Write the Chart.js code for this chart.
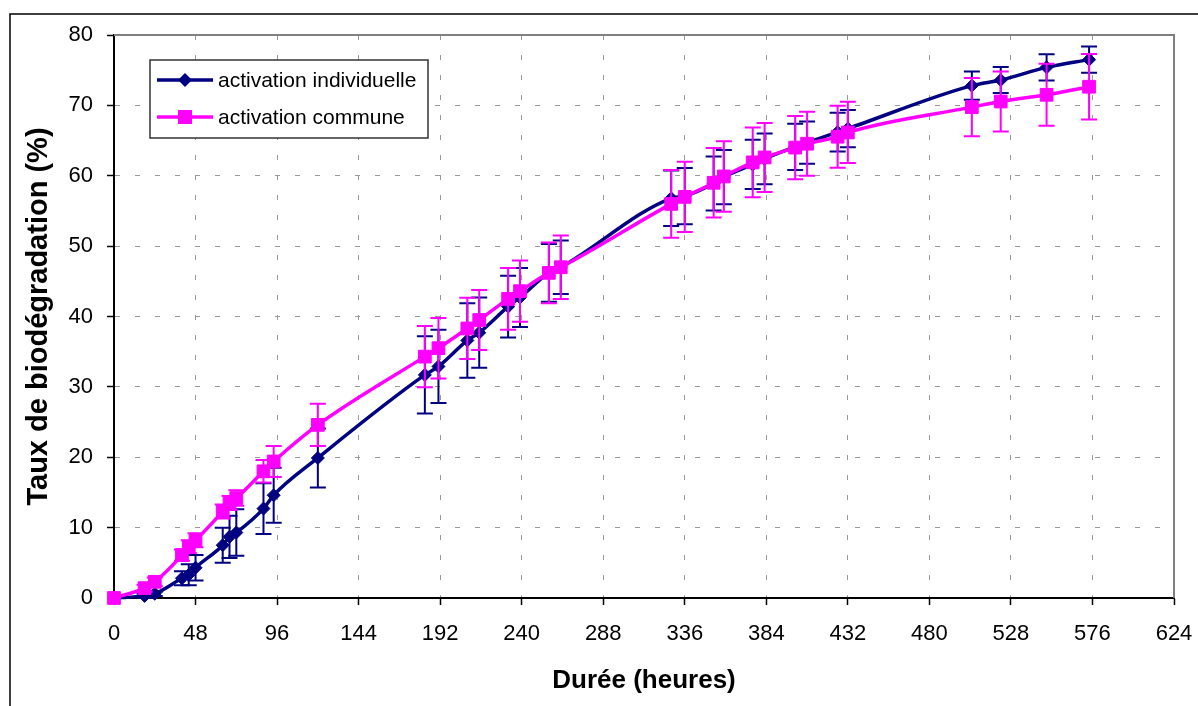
<!DOCTYPE html>
<html lang="fr">

<head>
    <!-- Meta information -->
    <meta charset="UTF-8">
    <title>Taux de biodégradation</title>

    <!-- Chart.js library for rendering the chart -->
    <script src="https://cdn.jsdelivr.net/npm/chart.js"></script>

    <style>
        body {
            margin: 0;
            background: #ffffff;
        }

        .chart-box {
            position: relative;
            width: 1198px;
            height: 706px;
        }
    </style>
</head>

<body>

<!-- Chart container -->
<div class="chart-box">
    <canvas id="bioChart"></canvas>
</div>

<script>
    // Sampling times (heures)
    const hours = [0, 18, 24, 40, 44, 48, 64, 68, 72, 88, 94, 120, 183, 191, 208, 215, 232, 239, 256, 263,
        328, 336, 353, 359, 376, 383, 401, 408, 426, 432, 505, 522, 549, 574];

    // activation individuelle (%) and its error
    const individuelle = [0, 0.3, 0.6, 2.8, 3.3, 4.3, 7.5, 8.7, 9.3, 12.7, 14.6, 19.9, 31.7, 32.9, 36.6, 37.7, 41.4, 42.7, 46.2, 47.0,
        56.8, 57.1, 58.9, 59.8, 61.6, 62.4, 64.1, 64.7, 66.2, 66.7, 72.8, 73.6, 75.4, 76.5];
    const individuelleErr = [0, 0.3, 0.3, 1.0, 1.5, 1.8, 2.5, 3.0, 3.3, 3.6, 3.9, 4.2, 5.5, 5.2, 5.3, 5.0, 4.4, 4.2, 4.1, 3.8,
        3.95, 4.0, 3.85, 3.85, 3.5, 3.6, 3.3, 3.0, 2.75, 2.65, 2.0, 1.85, 1.85, 1.85];

    // activation commune (%) and its error
    const commune = [0, 1.4, 2.3, 6.1, 7.3, 8.2, 12.3, 13.5, 14.2, 18.0, 19.4, 24.6, 34.3, 35.5, 38.3, 39.5, 42.5, 43.6, 46.2, 47.0,
        56.0, 57.0, 59.0, 59.9, 61.9, 62.6, 64.0, 64.55, 65.55, 66.15, 69.75, 70.55, 71.5, 72.65];
    const communeErr = [0, 0.5, 0.6, 0.8, 0.9, 1.0, 1.0, 1.0, 1.1, 1.6, 2.2, 3.0, 4.35, 4.3, 4.35, 4.25, 4.4, 4.35, 4.3, 4.5,
        4.8, 5.0, 4.95, 5.0, 4.95, 4.9, 4.5, 4.55, 4.4, 4.35, 4.15, 4.25, 4.4, 4.65];

    // Axis ticks
    const xTicks = [0, 48, 96, 144, 192, 240, 288, 336, 384, 432, 480, 528, 576, 624];
    const yTicks = [0, 10, 20, 30, 40, 50, 60, 70, 80];

    const FONT = "'Liberation Sans', Arial, sans-serif";

    function toPoints(values) {
        return hours.map((h, i) => ({ x: h, y: values[i] }));
    }

    // Draws vertical error bars with caps just before each dataset
    const errorBars = {
        id: 'errorBars',
        beforeDatasetDraw(chart, args) {
            const ds = chart.data.datasets[args.index];
            if (!ds.errors) return;
            const xs = chart.scales.x;
            const ys = chart.scales.y;
            const ctx = chart.ctx;
            ctx.save();
            ctx.strokeStyle = ds.borderColor;
            ctx.lineWidth = 2;
            ds.data.forEach((p, i) => {
                const e = ds.errors[i];
                if (!e) return;
                const px = xs.getPixelForValue(p.x);
                const top = ys.getPixelForValue(p.y + e);
                const bot = ys.getPixelForValue(p.y - e);
                ctx.beginPath();
                ctx.moveTo(px, top);
                ctx.lineTo(px, bot);
                ctx.moveTo(px - 8, top);
                ctx.lineTo(px + 8, top);
                ctx.moveTo(px - 8, bot);
                ctx.lineTo(px + 8, bot);
                ctx.stroke();
            });
            ctx.restore();
        }
    };

    // Outer chart frame and gray plot area border
    const frames = {
        id: 'frames',
        beforeDraw(chart) {
            const ctx = chart.ctx;
            ctx.save();
            ctx.strokeStyle = '#000';
            ctx.lineWidth = 1.5;
            ctx.beginPath();
            ctx.moveTo(10, chart.height + 5);
            ctx.lineTo(10, 14);
            ctx.lineTo(chart.width + 5, 14);
            ctx.stroke();
            ctx.restore();
        },
        beforeDatasetsDraw(chart) {
            const a = chart.chartArea;
            const ctx = chart.ctx;
            ctx.save();
            ctx.strokeStyle = '#808080';
            ctx.lineWidth = 2;
            ctx.beginPath();
            ctx.moveTo(a.left, a.top);
            ctx.lineTo(a.right, a.top);
            ctx.lineTo(a.right, a.bottom);
            ctx.stroke();
            ctx.restore();
        }
    };

    // Boxed legend inside the plot area
    const boxLegend = {
        id: 'boxLegend',
        afterDraw(chart) {
            const ctx = chart.ctx;
            ctx.save();
            ctx.strokeStyle = '#333';
            ctx.lineWidth = 1.5;
            ctx.fillStyle = '#fff';
            ctx.fillRect(150, 60, 278, 78);
            ctx.strokeRect(150, 60, 278, 78);

            const rows = [0, 1];
            rows.forEach((idx, r) => {
                const ds = chart.data.datasets[idx];
                const y = 80 + r * 37;
                ctx.strokeStyle = ds.borderColor;
                ctx.lineWidth = 3.5;
                ctx.beginPath();
                ctx.moveTo(157, y);
                ctx.lineTo(213, y);
                ctx.stroke();
                ctx.fillStyle = ds.borderColor;
                ctx.beginPath();
                if (ds.pointStyle === 'rectRot') {
                    ctx.moveTo(185, y - 7);
                    ctx.lineTo(192, y);
                    ctx.lineTo(185, y + 7);
                    ctx.lineTo(178, y);
                    ctx.closePath();
                } else {
                    ctx.rect(178, y - 7, 14, 14);
                }
                ctx.fill();
                ctx.fillStyle = '#000';
                ctx.font = '21px ' + FONT;
                ctx.textBaseline = 'middle';
                ctx.fillText(ds.label, 218, y + 1);
            });
            ctx.restore();
        }
    };

    const ctx = document.getElementById('bioChart').getContext('2d');

    new Chart(ctx, {
        type: 'line',
        data: {
            datasets: [{
                label: 'activation individuelle',
                data: toPoints(individuelle),
                errors: individuelleErr,
                borderColor: '#000080',
                backgroundColor: '#000080',
                borderWidth: 3.5,
                pointStyle: 'rectRot',
                pointRadius: 6.5,
                pointBorderWidth: 1,
                cubicInterpolationMode: 'monotone',
                clip: false,
                order: 1
            }, {
                label: 'activation commune',
                data: toPoints(commune),
                errors: communeErr,
                borderColor: '#ff00ff',
                backgroundColor: '#ff00ff',
                borderWidth: 3.5,
                pointStyle: 'rect',
                pointRadius: 9,
                pointBorderWidth: 1,
                cubicInterpolationMode: 'monotone',
                clip: false,
                order: 0
            }]
        },
        options: {
            responsive: true,
            maintainAspectRatio: false,
            animation: false,
            layout: {
                padding: { left: 0, top: 35, right: 24, bottom: 0 }
            },
            plugins: {
                legend: { display: false },
                tooltip: { enabled: false }
            },
            scales: {
                x: {
                    type: 'linear',
                    min: 0,
                    max: 624,
                    afterBuildTicks: s => { s.ticks = xTicks.map(v => ({ value: v })); },
                    afterFit: s => {
                        s.height = 108;
                        s.paddingLeft = 0;
                        s.paddingRight = 0;
                    },
                    grid: {
                        color: '#9a9a9a',
                        lineWidth: 1,
                        tickLength: 7,
                        tickColor: '#000',
                        tickWidth: 1.5,
                        tickBorderDash: []
                    },
                    border: { color: '#000', width: 2, dash: [5, 15] },
                    ticks: {
                        font: { family: FONT, size: 22 },
                        color: '#000',
                        padding: 16,
                        maxRotation: 0,
                        autoSkip: false
                    },
                    title: {
                        display: true,
                        text: 'Durée (heures)',
                        font: { family: FONT, size: 26, weight: 'bold' },
                        color: '#000',
                        padding: { top: 0, bottom: 10 }
                    }
                },
                y: {
                    min: 0,
                    max: 80,
                    afterBuildTicks: s => { s.ticks = yTicks.map(v => ({ value: v })); },
                    afterFit: s => {
                        s.width = 114;
                        s.paddingTop = 0;
                        s.paddingBottom = 0;
                    },
                    grid: {
                        color: '#9a9a9a',
                        lineWidth: 1,
                        tickLength: 7,
                        tickColor: '#000',
                        tickWidth: 1.5,
                        tickBorderDash: []
                    },
                    border: { color: '#000', width: 2, dash: [5, 15] },
                    ticks: {
                        font: { family: FONT, size: 22 },
                        color: '#000',
                        padding: 14
                    },
                    title: {
                        display: true,
                        text: 'Taux de biodégradation (%)',
                        font: { family: FONT, size: 29, weight: 'bold' },
                        color: '#000',
                        padding: { top: 22, bottom: 0 }
                    }
                }
            }
        },
        plugins: [errorBars, frames, boxLegend]
    });
</script>
</body>
</html>
